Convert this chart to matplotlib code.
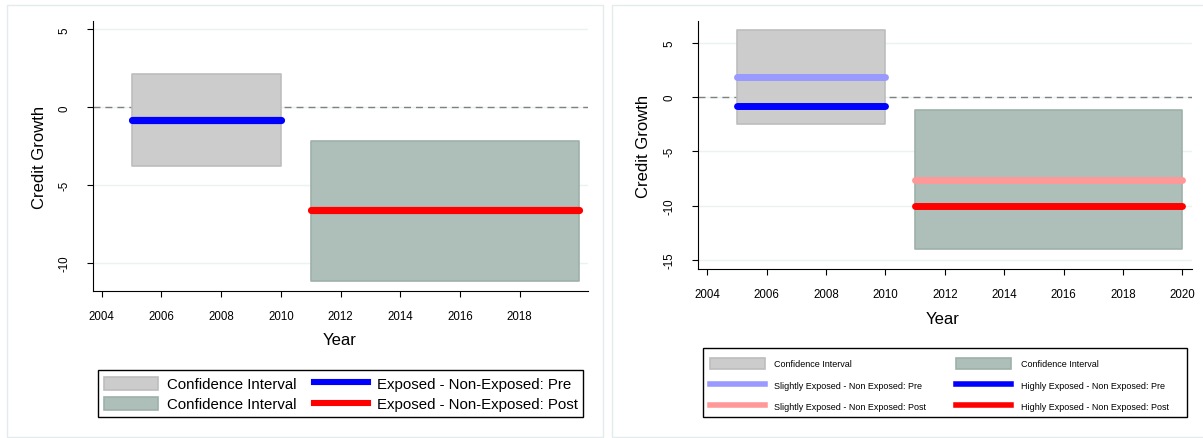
import numpy as np
import matplotlib.pyplot as plt
from matplotlib.patches import Rectangle, Patch
from matplotlib.lines import Line2D

plt.rcParams['font.family'] = ['Liberation Sans', 'DejaVu Sans']
plt.rcParams['axes.unicode_minus'] = False

# periods covered by each estimate
pre_years = [2005, 2010]
post_years = [2011, 2020]

# pooled: exposed vs non-exposed
pooled_pre = -0.80
pooled_post = -6.62
pooled_ci_pre = [-3.75, 2.14]
pooled_ci_post = [-11.15, -2.18]

# split by exposure intensity
slight_pre = 1.87
slight_post = -7.62
high_pre = -0.86
high_post = -10.02
split_ci_pre = [-2.49, 6.20]
split_ci_post = [-14.00, -1.22]

left_xticks = [2004, 2006, 2008, 2010, 2012, 2014, 2016, 2018]
right_xticks = [2004, 2006, 2008, 2010, 2012, 2014, 2016, 2018, 2020]
left_yticks = [-10, -5, 0, 5]
right_yticks = [-15, -10, -5, 0, 5]

CI_GRAY = '#cccccc'
CI_GRAY_EDGE = '#bdbdbd'
CI_GREEN = '#adbfb8'
CI_GREEN_EDGE = '#9db1a9'
W, H = 1203, 439


def px_box(x0, y0, x1, y1):
    """Pixel box (top-left origin) -> figure-fraction rect."""
    return [x0 / W, 1 - y1 / H, (x1 - x0) / W, (y1 - y0) / H]


def frame(rect, color, lw):
    fig.patches.append(Rectangle(rect[:2], rect[2], rect[3], transform=fig.transFigure,
                                 fill=False, ec=color, lw=lw, zorder=5))


def style_axes(ax, xlim, ylim, xticks, yticks):
    ax.set_xlim(*xlim)
    ax.set_ylim(*ylim)
    ax.set_xticks(xticks)
    ax.set_yticks(yticks)
    for s in ['top', 'right']:
        ax.spines[s].set_visible(False)
    for s in ['left', 'bottom']:
        ax.spines[s].set_linewidth(0.8)
    ax.tick_params(direction='out', length=4.3, width=0.8, labelsize=8.3)
    ax.tick_params(axis='x', pad=9.5)
    ax.tick_params(axis='y', pad=11.5, labelrotation=90)
    for lab in ax.get_yticklabels():
        lab.set_va('center')
    ax.grid(axis='y', color='#eaf2f3', lw=1)
    ax.grid(axis='x', visible=False)
    ax.set_axisbelow(True)
    ax.axhline(0, color='#808080', lw=1, dashes=(5, 3.6), zorder=0.8)


def ci_box(ax, years, ci, face, edge):
    ax.fill_between(years, ci[0], ci[1], facecolor=face, edgecolor=edge,
                    lw=1.2, zorder=1.5)


def effect(ax, years, value, color, lw):
    ax.plot(years, [value, value], color=color, lw=lw,
            solid_capstyle='round', zorder=3)


fig = plt.figure(figsize=(W / 100, H / 100), dpi=100)
fig.patch.set_facecolor('white')

# panel frames
frame(px_box(7, 6, 603, 438), '#e3ebee', 1)
frame(px_box(612, 6, 1210, 438), '#e3ebee', 1)

# left panel: pooled estimates
ax1 = fig.add_axes(px_box(92.5, 22, 588, 291.7))
style_axes(ax1, (2003.69, 2020.29), (-11.78, 5.54), left_xticks, left_yticks)
ci_box(ax1, pre_years, pooled_ci_pre, CI_GRAY, CI_GRAY_EDGE)
ci_box(ax1, post_years, pooled_ci_post, CI_GREEN, CI_GREEN_EDGE)
effect(ax1, pre_years, pooled_pre, '#0000ff', 5.2)
effect(ax1, post_years, pooled_post, '#ff0000', 5.2)
fig.text(40 / W, 1 - 157 / H, 'Credit Growth', rotation=90, ha='center', va='center', fontsize=12)
fig.text(340 / W, 1 - 341 / H, 'Year', ha='center', va='center', fontsize=12)

h1 = [Patch(facecolor=CI_GRAY, edgecolor=CI_GRAY_EDGE, lw=1.2),
      Patch(facecolor=CI_GREEN, edgecolor=CI_GREEN_EDGE, lw=1.2),
      Line2D([], [], color='#0000ff', lw=4.4),
      Line2D([], [], color='#ff0000', lw=4.4)]
l1 = ['Confidence Interval', 'Confidence Interval',
      'Exposed - Non-Exposed: Pre', 'Exposed - Non-Exposed: Post']
fig.legend(h1, l1, ncol=2, loc='upper left', bbox_to_anchor=(97.7 / W, 1 - 371.5 / H),
           bbox_transform=fig.transFigure, fontsize=10.8, frameon=False,
           handlelength=3.6, handleheight=1.0, handletextpad=0.6, columnspacing=1.2,
           labelspacing=0.35, borderpad=0.4, borderaxespad=0)
frame(px_box(97.7, 370.7, 582.5, 418.3), 'black', 1.0)

# right panel: slightly vs highly exposed
ax2 = fig.add_axes(px_box(697.7, 22, 1191.7, 270))
style_axes(ax2, (2003.68, 2020.31), (-15.85, 7.0), right_xticks, right_yticks)
ci_box(ax2, pre_years, split_ci_pre, CI_GRAY, CI_GRAY_EDGE)
ci_box(ax2, post_years, split_ci_post, CI_GREEN, CI_GREEN_EDGE)
effect(ax2, pre_years, slight_pre, '#9999ff', 5.0)
effect(ax2, pre_years, high_pre, '#0000ff', 5.0)
effect(ax2, post_years, slight_post, '#ff9999', 5.0)
effect(ax2, post_years, high_post, '#ff0000', 5.0)
fig.text(644 / W, 1 - 146 / H, 'Credit Growth', rotation=90, ha='center', va='center', fontsize=12)
fig.text(943 / W, 1 - 320 / H, 'Year', ha='center', va='center', fontsize=12)

h2 = [Patch(facecolor=CI_GRAY, edgecolor=CI_GRAY_EDGE, lw=1.2),
      Line2D([], [], color='#9999ff', lw=4.0),
      Line2D([], [], color='#ff9999', lw=4.0),
      Patch(facecolor=CI_GREEN, edgecolor=CI_GREEN_EDGE, lw=1.2),
      Line2D([], [], color='#0000ff', lw=4.0),
      Line2D([], [], color='#ff0000', lw=4.0)]
l2 = ['Confidence Interval', 'Slightly Exposed - Non Exposed: Pre',
      'Slightly Exposed - Non Exposed: Post', 'Confidence Interval',
      'Highly Exposed - Non Exposed: Pre', 'Highly Exposed - Non Exposed: Post']
fig.legend(h2, l2, ncol=2, loc='upper left', bbox_to_anchor=(703.3 / W, 1 - 352.3 / H),
           bbox_transform=fig.transFigure, fontsize=6.5, frameon=False,
           handlelength=6.1, handleheight=1.6, handletextpad=1.0, columnspacing=3.4,
           labelspacing=1.1, borderpad=0.7, borderaxespad=0)
frame(px_box(703.3, 349.3, 1186.7, 418.3), 'black', 1.0)

fig.savefig('out.png', dpi=100, facecolor='white')
